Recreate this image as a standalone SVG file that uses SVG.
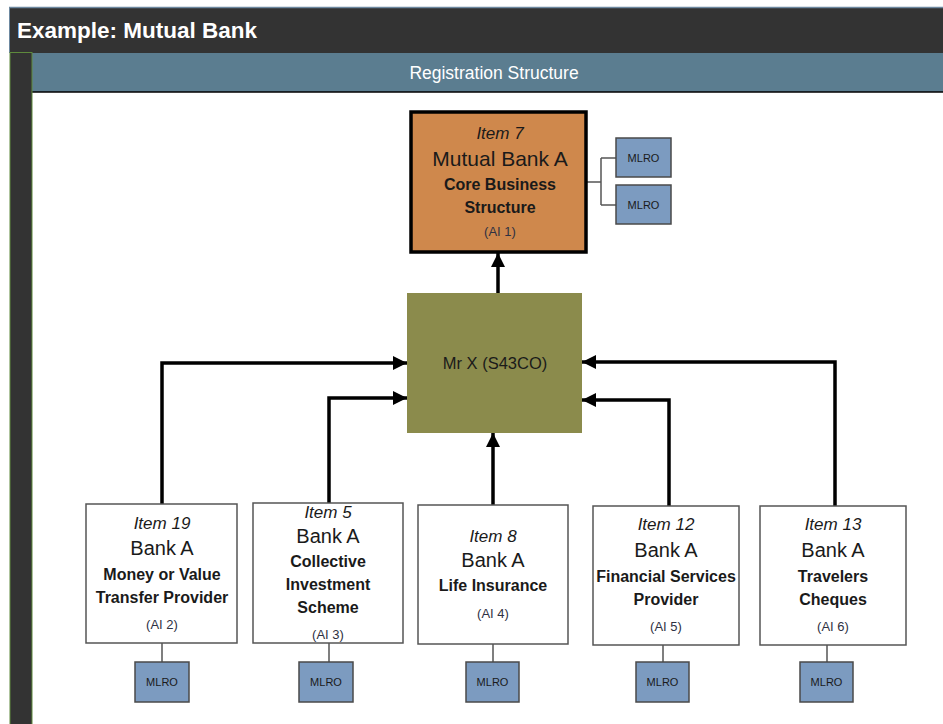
<svg xmlns="http://www.w3.org/2000/svg" width="943" height="724" viewBox="0 0 943 724">
  <style>
    text { font-family: "Liberation Sans", Arial, sans-serif; text-anchor: middle; fill: #1a1a1a; }
    .title { font-size: 22.5px; font-weight: bold; fill: #ffffff; text-anchor: start; }
    .band { font-size: 17.5px; fill: #ffffff; }
    .item { font-size: 17px; font-style: italic; }
    .name { font-size: 20px; }
    .kind { font-size: 16px; font-weight: bold; }
    .ai { font-size: 13px; fill: #2e3142; }
    .mlro-t { font-size: 11px; fill: #1a1a1a; }
    .entity { fill: #ffffff; stroke: #555555; stroke-width: 1.5; }
    .mlro { fill: #7c9bc0; stroke: #4a4a4a; stroke-width: 1.5; }
    .link { fill: none; stroke: #555555; stroke-width: 1.5; }
    .flow { fill: none; stroke: #000000; stroke-width: 3.5; }
  </style>
  <defs>
    <marker id="arrow" markerUnits="userSpaceOnUse" markerWidth="16" markerHeight="16" refX="14" refY="7" orient="auto">
      <path d="M0,0 L14,7 L0,14 Z" fill="#000"/>
    </marker>
  </defs>

  <!-- page frame -->
  <rect x="0" y="0" width="943" height="724" fill="#ffffff"/>
  <rect x="9" y="7" width="934" height="46" fill="#333333"/>
  <line x1="9" y1="7.5" x2="943" y2="7.5" stroke="#6d88a0" stroke-width="1.5"/>
  <line x1="9.5" y1="7" x2="9.5" y2="53" stroke="#6d88a0" stroke-width="1"/>
  <text class="title" x="17" y="38">Example: Mutual Bank</text>
  <rect x="32" y="53" width="911" height="39" fill="#5b7d90"/>
  <line x1="32" y1="92" x2="943" y2="92" stroke="#000" stroke-width="1.5"/>
  <text class="band" x="494" y="79">Registration Structure</text>
  <rect x="10" y="52.5" width="22" height="680" fill="#333333" stroke="#5e8a3c" stroke-width="1"/>

  <!-- connectors -->
  <g id="connectors">
    <path class="flow" d="M498,293 V253" marker-end="url(#arrow)"/>
    <path class="flow" d="M162,505 V363 H407" marker-end="url(#arrow)"/>
    <path class="flow" d="M329,503 V398 H407" marker-end="url(#arrow)"/>
    <path class="flow" d="M493,505 V433" marker-end="url(#arrow)"/>
    <path class="flow" d="M669,506 V400 H582" marker-end="url(#arrow)"/>
    <path class="flow" d="M835,506 V362 H582" marker-end="url(#arrow)"/>
    <path class="link" d="M586,182 H601 M601,158 V205 M601,158 H616 M601,205 H616"/>
    <path class="link" d="M162,643 V662 M329,643 V662 M493,644 V662 M663,645 V662 M827,645 V662"/>
  </g>

  <!-- core business -->
  <g id="item7">
    <rect x="411" y="112" width="175" height="140" fill="#cf884c" stroke="#000" stroke-width="3.5"/>
    <text class="item" x="500" y="139">Item 7</text>
    <text class="name" x="500" y="166" style="font-size:21px">Mutual Bank A</text>
    <text class="kind" x="500" y="190">Core Business</text>
    <text class="kind" x="500" y="213">Structure</text>
    <text class="ai" x="500" y="236">(AI 1)</text>
  </g>
  <g id="mlro7a">
    <rect class="mlro" x="616" y="138" width="55" height="39"/>
    <text class="mlro-t" x="643.5" y="161.5">MLRO</text>
  </g>
  <g id="mlro7b">
    <rect class="mlro" x="616" y="185" width="55" height="39"/>
    <text class="mlro-t" x="643.5" y="208.5">MLRO</text>
  </g>

  <!-- controller -->
  <g id="mrx">
    <rect x="407" y="293" width="175" height="140" fill="#8b8b4c"/>
    <text x="495" y="369" style="font-size:16.5px">Mr X (S43CO)</text>
  </g>

  <!-- authorised entities -->
  <g id="item19">
    <rect class="entity" x="86" y="504" width="151" height="139"/>
    <text class="item" x="162" y="529">Item 19</text>
    <text class="name" x="162" y="555">Bank A</text>
    <text class="kind" x="162" y="580">Money or Value</text>
    <text class="kind" x="162" y="603">Transfer Provider</text>
    <text class="ai" x="162" y="629">(AI 2)</text>
  </g>
  <g id="item5">
    <rect class="entity" x="253" y="503" width="150" height="140"/>
    <text class="item" x="328" y="518">Item 5</text>
    <text class="name" x="328" y="543">Bank A</text>
    <text class="kind" x="328" y="567">Collective</text>
    <text class="kind" x="328" y="590">Investment</text>
    <text class="kind" x="328" y="613">Scheme</text>
    <text class="ai" x="328" y="639">(AI 3)</text>
  </g>
  <g id="item8">
    <rect class="entity" x="418" y="505" width="150" height="139"/>
    <text class="item" x="493" y="542">Item 8</text>
    <text class="name" x="493" y="567">Bank A</text>
    <text class="kind" x="493" y="591">Life Insurance</text>
    <text class="ai" x="493" y="618">(AI 4)</text>
  </g>
  <g id="item12">
    <rect class="entity" x="593" y="506" width="146" height="139"/>
    <text class="item" x="666" y="530">Item 12</text>
    <text class="name" x="666" y="557">Bank A</text>
    <text class="kind" x="666" y="582">Financial Services</text>
    <text class="kind" x="666" y="605">Provider</text>
    <text class="ai" x="666" y="631">(AI 5)</text>
  </g>
  <g id="item13">
    <rect class="entity" x="760" y="506" width="146" height="139"/>
    <text class="item" x="833" y="530">Item 13</text>
    <text class="name" x="833" y="557">Bank A</text>
    <text class="kind" x="833" y="582">Travelers</text>
    <text class="kind" x="833" y="605">Cheques</text>
    <text class="ai" x="833" y="631">(AI 6)</text>
  </g>

  <!-- compliance officers -->
  <g id="mlro19"><rect class="mlro" x="135" y="662" width="54" height="40"/><text class="mlro-t" x="162" y="686">MLRO</text></g>
  <g id="mlro5"><rect class="mlro" x="299" y="662" width="54" height="40"/><text class="mlro-t" x="326" y="686">MLRO</text></g>
  <g id="mlro8"><rect class="mlro" x="466" y="662" width="53" height="40"/><text class="mlro-t" x="492.5" y="686">MLRO</text></g>
  <g id="mlro12"><rect class="mlro" x="636" y="662" width="53" height="40"/><text class="mlro-t" x="662.5" y="686">MLRO</text></g>
  <g id="mlro13"><rect class="mlro" x="800" y="662" width="53" height="40"/><text class="mlro-t" x="826.5" y="686">MLRO</text></g>
</svg>
